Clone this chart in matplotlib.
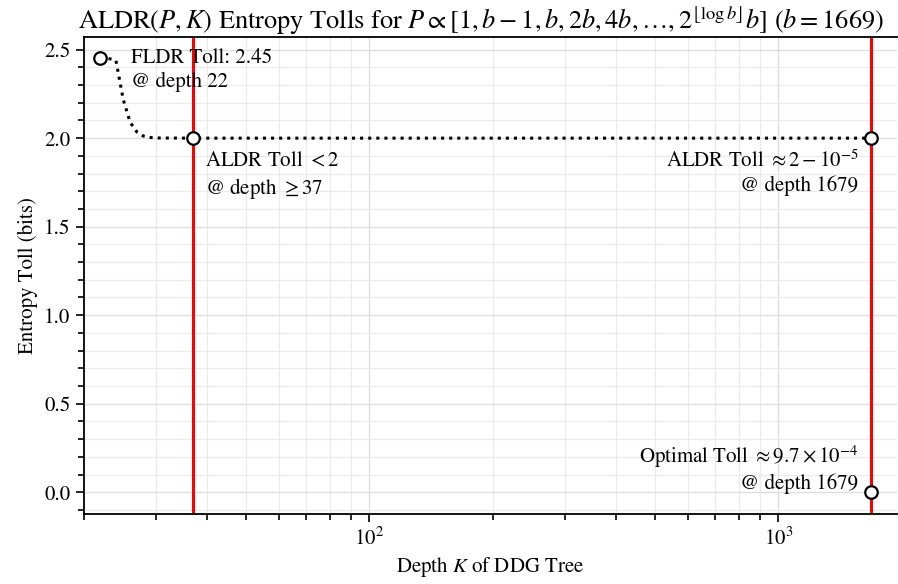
import matplotlib
matplotlib.use("Agg")
import matplotlib.pyplot as plt
from matplotlib.ticker import MultipleLocator

plt.rcParams['font.family'] = ['STIXGeneral', 'DejaVu Serif']
plt.rcParams['mathtext.fontset'] = 'stix'
plt.rcParams['font.size'] = 15

# datos
profundidad = [22, 23, 24, 25, 26, 27, 28, 29, 30, 37, 100, 1000, 1679]
peaje_aldr = [2.45, 2.45, 2.44, 2.22, 2.09, 2.035, 2.012, 2.004, 2.001, 2.0, 2.0, 2.0, 2.0]

k_fldr, peaje_fldr = 22, 2.45
k_aldr, peaje_aldr_min = 37, 2.0
k_max = 1679
peaje_final = 2.0
peaje_optimo = 0.00097

fig, ax = plt.subplots(figsize=(8.98, 5.84), dpi=100)

ax.axvline(k_aldr, color='red', lw=2.2, zorder=2)
ax.axvline(k_max, color='red', lw=2.2, zorder=2)
ax.plot(profundidad, peaje_aldr, color='black', ls=':', lw=2.2, zorder=3)

puntos = [(k_fldr, peaje_fldr), (k_aldr, peaje_aldr_min),
          (k_max, peaje_final), (k_max, peaje_optimo)]
for x, y in puntos:
    ax.plot(x, y, 'o', ms=9, mfc='white', mec='black', mew=1.6, zorder=5)

ax.annotate('FLDR Toll: 2.45\n@ depth 22', (k_fldr, peaje_fldr),
            xytext=(31, 10), textcoords='offset pixels', ha='left', va='top')
ax.annotate('ALDR Toll $< 2$\n@ depth $\\geq 37$', (k_aldr, peaje_aldr_min),
            xytext=(12, -14), textcoords='offset pixels', ha='left', va='top')
ax.annotate('ALDR Toll $\\approx 2-10^{-5}$\n@ depth 1679', (k_max, peaje_final),
            xytext=(-12, -12), textcoords='offset pixels', ha='right', va='top',
            multialignment='right')
ax.annotate('Optimal Toll $\\approx 9.7\\times10^{-4}$\n@ depth 1679', (k_max, peaje_optimo),
            xytext=(-12, -2), textcoords='offset pixels', ha='right', va='bottom',
            multialignment='right')

ax.set_xscale('log')
ax.set_xlim(20, 1950)
ax.set_ylim(-0.1225, 2.5725)
ax.yaxis.set_major_locator(MultipleLocator(0.5))
ax.yaxis.set_minor_locator(MultipleLocator(0.1))
ax.grid(which='major', color='#dddddd', lw=0.9)
ax.grid(which='minor', color='#ebebeb', lw=0.9)
ax.set_axisbelow(True)
ax.tick_params(which='both', direction='out', width=1.2)
ax.tick_params(which='major', length=6)
ax.tick_params(which='minor', length=4)
ax.spines['right'].set_visible(False)
for s in ['left', 'bottom', 'top']:
    ax.spines[s].set_linewidth(1.3)

ax.set_title('ALDR$(P,K)$ Entropy Tolls for $P \\propto [1,b-1,b,2b,4b,\\ldots,2^{\\lfloor \\log b \\rfloor}b]$ ($b=1669$)',
             fontsize=19, pad=4, x=0.488)
ax.set_xlabel('Depth $K$ of DDG Tree')
ax.set_ylabel('Entropy Toll (bits)')

fig.subplots_adjust(left=0.093, right=0.999, top=0.937, bottom=0.12)
fig.savefig('out.png')
